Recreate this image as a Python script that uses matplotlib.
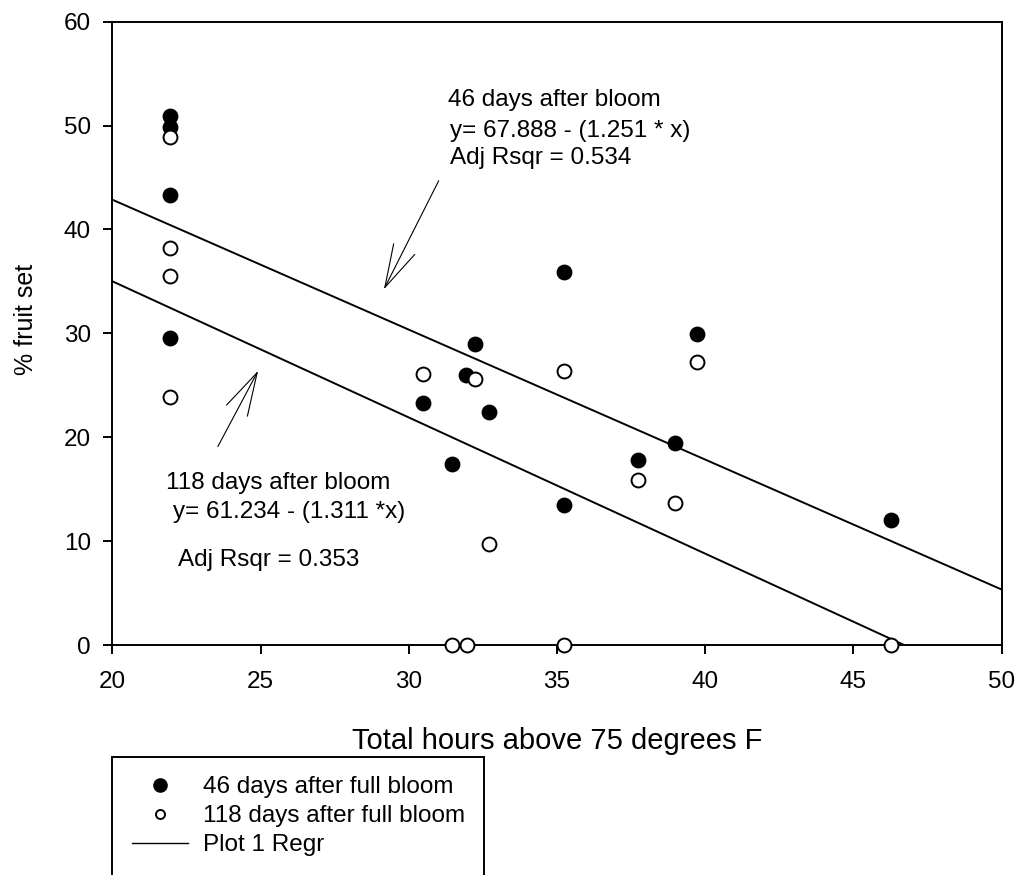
import numpy as np
import matplotlib
matplotlib.use("Agg")
import matplotlib.pyplot as plt
from matplotlib.lines import Line2D

plt.rcParams["font.family"] = ["Liberation Sans", "DejaVu Sans"]

# hours above 75 F and % fruit set
hours_46 = [21.95, 21.95, 21.95, 21.95, 30.47, 31.45, 31.94, 32.22, 32.72,
            35.23, 35.23, 37.73, 38.97, 39.73, 46.25]
set_46 = [50.9, 49.9, 43.3, 29.6, 23.3, 17.4, 26.0, 29.0, 22.4,
          35.9, 13.5, 17.8, 19.4, 29.9, 12.0]

hours_118 = [21.95, 21.95, 21.95, 21.95, 30.47, 31.45, 31.96, 32.22, 32.72,
             35.23, 35.23, 37.73, 38.97, 39.73, 46.25]
set_118 = [48.9, 38.2, 35.5, 23.9, 26.1, 0.0, 0.0, 25.6, 9.7,
           26.4, 0.0, 15.9, 13.65, 27.2, 0.0]

# regression coefficients (intercept, slope) from the annotations
regr_46 = (67.888, -1.251)
regr_118 = (61.234, -1.311)

xticks = [20, 25, 30, 35, 40, 45, 50]
yticks = [0, 10, 20, 30, 40, 50, 60]

fs = 17.5
lw = 1.4

fig = plt.figure(figsize=(10.18, 8.75), dpi=100)
ax = fig.add_axes([112.3 / 1018, 1 - 645 / 875, (1001.7 - 112.3) / 1018, (645 - 21.7) / 875])

# regression lines
x_line = np.array([20, 50])
a, b = regr_46
ax.plot(x_line, a + b * x_line, color="black", lw=lw, zorder=2)
a, b = regr_118
x_end = -a / b  # stop where the line reaches 0
x_line2 = np.array([20, x_end])
ax.plot(x_line2, a + b * x_line2, color="black", lw=lw, zorder=2)

ax.plot(hours_46, set_46, "o", color="black", ms=10, mec="black", mew=lw,
        zorder=3, clip_on=False)
ax.plot(hours_118, set_118, "o", color="white", ms=10, mec="black", mew=lw,
        zorder=4, clip_on=False)

ax.set_xlim(20, 50)
ax.set_ylim(0, 60)
ax.set_xticks(xticks)
ax.set_yticks(yticks)
ax.tick_params(direction="out", length=6.5, width=lw, labelsize=fs)
ax.tick_params(axis="x", pad=12)
ax.tick_params(axis="y", pad=9)
for sp in ax.spines.values():
    sp.set_linewidth(lw)

ax.set_xlabel("Total hours above 75 degrees F", fontsize=21)
ax.xaxis.set_label_coords(0.5, -0.1663)
ax.xaxis.label.set_verticalalignment("baseline")
ax.set_ylabel("% fruit set", fontsize=18)
ax.yaxis.set_label_coords(-0.097, 0.523)
ax.yaxis.label.set_verticalalignment("center")

# annotations
ax.text(31.33, 51.89, "46 days after bloom", fontsize=fs, va="baseline")
ax.text(31.39, 48.90, "y= 67.888 - (1.251 * x)", fontsize=fs, va="baseline")
ax.text(31.39, 46.31, "Adj Rsqr = 0.534", fontsize=fs, va="baseline")

ax.text(21.81, 15.05, "118 days after bloom", fontsize=fs, va="baseline")
ax.text(22.05, 12.23, "y= 61.234 - (1.311 *x)", fontsize=fs, va="baseline")
ax.text(22.21, 7.58, "Adj Rsqr = 0.353", fontsize=fs, va="baseline")

arrow = dict(arrowstyle="->,head_length=31,head_width=8.5", mutation_scale=1,
             color="black", lw=0.8, shrinkA=0, shrinkB=0)
ax.annotate("", xy=(29.16, 34.23), xytext=(31.01, 44.69), arrowprops=arrow)
ax.annotate("", xy=(24.92, 26.40), xytext=(23.56, 19.10), arrowprops=arrow)

handles = [
    Line2D([], [], ls="none", marker="o", color="black", ms=9.5),
    Line2D([], [], ls="none", marker="o", mfc="white", mec="black", mew=lw, ms=6.5),
    Line2D([], [], color="black", lw=1.0),
    Line2D([], [], color="none"),
]
labels = ["46 days after full bloom", "118 days after full bloom", "Plot 1 Regr", " "]
leg = fig.legend(handles, labels, loc="upper left",
                 bbox_to_anchor=(112.3 / 1018, 1 - 757 / 875),
                 borderaxespad=0, fontsize=fs, frameon=True, fancybox=False,
                 framealpha=1, edgecolor="black", handlelength=2.33,
                 handletextpad=0.59, borderpad=0.8, labelspacing=0.28)
leg.get_frame().set_linewidth(lw)

fig.savefig("out.png", dpi=100)
